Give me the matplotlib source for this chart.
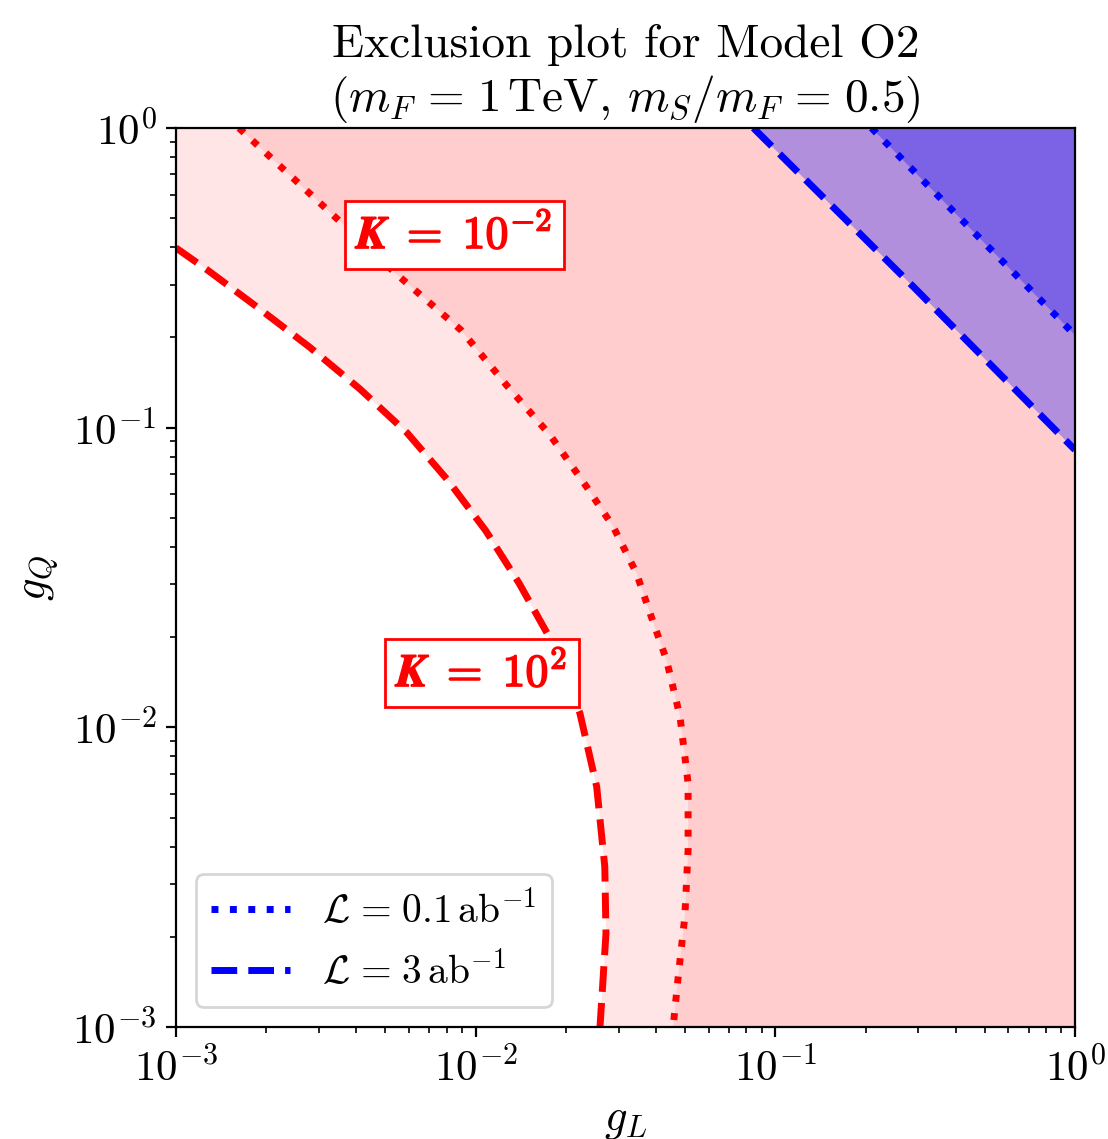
import numpy as np
import matplotlib
matplotlib.use("Agg")
import matplotlib.pyplot as plt
import matplotlib.patheffects as pe

plt.rcParams['font.family'] = 'serif'
plt.rcParams['font.serif'] = ['cmr10']
plt.rcParams['mathtext.fontset'] = 'cm'
plt.rcParams['axes.formatter.use_mathtext'] = True
plt.rcParams['axes.unicode_minus'] = False

# curves (log10 values)
# K = 10^2 (3 ab^-1), red dashed
dash_lgL = [-3.0, -2.892, -2.723, -2.553, -2.386, -2.229, -2.093, -1.966, -1.855,
            -1.758, -1.652, -1.596, -1.569, -1.565, -1.585]
dash_lgQ = [-0.400, -0.476, -0.602, -0.732, -0.871, -1.017, -1.175, -1.344, -1.519,
            -1.692, -1.953, -2.198, -2.465, -2.687, -3.0]
# K = 10^-2 (0.1 ab^-1), red dotted
dot_lgL = [-2.790, -2.458, -2.267, -2.049, -1.897, -1.752, -1.630, -1.541, -1.463,
           -1.418, -1.363, -1.318, -1.291, -1.291, -1.302, -1.324, -1.341]
dot_lgQ = [0.0, -0.307, -0.485, -0.674, -0.858, -1.024, -1.197, -1.330, -1.486,
           -1.619, -1.775, -1.964, -2.187, -2.409, -2.632, -2.832, -3.0]
# blue limits (straight lines in log-log)
blue_dash_lgL = [-1.073, -0.537, 0.0]
blue_dash_lgQ = [0.0, -0.532, -1.074]
blue_dot_lgL = [-0.679, -0.340, 0.0]
blue_dot_lgQ = [0.0, -0.345, -0.691]

xlim = (1e-3, 1.0)
ylim = (1e-3, 1.0)

EQ = r'\hspace{0.12}=\hspace{0.12}'

fig = plt.figure(figsize=(5.54, 5.695), dpi=200)
ax = fig.add_axes([0.1588, 0.0983, 0.8114, 0.7893])
ax.set_xscale('log')
ax.set_yscale('log')

red_curves = [(dash_lgL, dash_lgQ, '--'), (dot_lgL, dot_lgQ, ':')]
for lgL, lgQ, ls in red_curves:
    gL = 10 ** np.array(lgL)
    gQ = 10 ** np.array(lgQ)
    px = np.r_[xlim[0], gL, xlim[1], xlim[1]]
    py = np.r_[ylim[1], gQ, ylim[0], ylim[1]]
    ax.fill(px, py, color='red', alpha=0.1, lw=0)
    ax.plot(gL, gQ, color='red', ls=ls, lw=2.5)

blue_curves = [(blue_dash_lgL, blue_dash_lgQ, '--', r'$\mathcal{L}' + EQ + r'3\,\mathrm{ab}^{-1}$'),
               (blue_dot_lgL, blue_dot_lgQ, ':', r'$\mathcal{L}' + EQ + r'0.1\,\mathrm{ab}^{-1}$')]
for lgL, lgQ, ls, lab in blue_curves:
    gL = 10 ** np.array(lgL)
    gQ = 10 ** np.array(lgQ)
    ax.fill_between(gL, gQ, ylim[1], color='blue', alpha=0.3, lw=0)
    ax.plot(gL, gQ, color='blue', ls=ls, lw=2.5, label=lab)

box = dict(boxstyle='square,pad=0.25', fc='white', ec='red', lw=1)
k_labels = [(0.0085, 0.44, r'$\mathbfit{K}\hspace{0.3}\mathbf{=}\hspace{0.3}\mathbf{10}^{\mathbf{-2}}$'),
            (0.0105, 0.0152, r'$\mathbfit{K}\hspace{0.3}\mathbf{=}\hspace{0.3}\mathbf{10}^{\mathbf{2}}$')]
for x, y, s in k_labels:
    t = ax.text(x, y, s, color='red', fontsize=16.5, ha='center', va='center', bbox=box)
    t.set_path_effects([pe.withStroke(linewidth=0.6, foreground='red')])

ax.set_xlim(*xlim)
ax.set_ylim(*ylim)
ax.tick_params(labelsize=15.5)
ax.set_xlabel(r'$g_L$', fontsize=16)
ax.set_ylabel(r'$g_Q$', fontsize=16)
ax.set_title('Exclusion plot for Model O2\n'
             + r'($m_F' + EQ + r'1\,\mathrm{TeV}$, $m_S/m_F' + EQ + r'0.5$)',
             fontsize=17)

handles, labels = ax.get_legend_handles_labels()
ax.legend(handles[::-1], labels[::-1], loc='lower left', fontsize=14.2)

fig.savefig('out.png')
